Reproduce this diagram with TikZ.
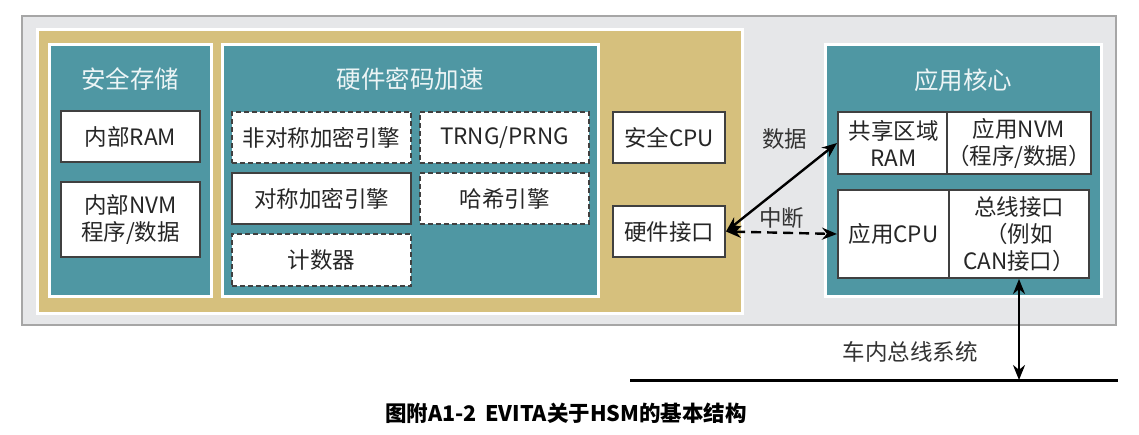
\documentclass[tikz,border=0pt]{standalone}
\usepackage{fontspec}
\setmainfont{Noto Sans CJK SC}
\usetikzlibrary{arrows.meta}
\definecolor{hsmteal}{HTML}{4F97A3}
\definecolor{hsmgold}{HTML}{D6C07D}
\definecolor{hsmgray}{HTML}{E6E7E9}
\tikzset{
  blk/.style={draw=black!75,line width=2pt,fill=white,inner sep=0pt,align=center,
              text=black!85,font=\fontsize{22.5}{27}\selectfont},
  dsh/.style={blk,dash pattern=on 5pt off 3pt},
  grp/.style={draw=white,line width=3pt,fill=hsmteal,inner sep=0pt},
  ttl/.style={text=white!90!hsmteal,font=\fontsize{24.5}{28}\selectfont},
  lbl/.style={text=black!80,font=\fontsize{22.5}{27}\selectfont},
  link/.style={line width=2.4pt,{Stealth[length=15pt,width=12pt]}-{Stealth[length=15pt,width=12pt]}}
}
\begin{document}
\begin{tikzpicture}[x=1pt,y=-1pt]
\useasboundingbox[fill=white] (0,0) rectangle (1139,435);
% frames
\node[draw=black!35,line width=2pt,fill=hsmgray,minimum width=1094pt,minimum height=309pt] (hsm) at (569,170.5) {};
\node[draw=white,line width=3pt,fill=hsmgold,minimum width=705pt,minimum height=283pt] (core) at (389.5,171.5) {};
\node[grp,minimum width=162pt,minimum height=251pt] (store) at (130,170.5) {};
\node[grp,minimum width=376pt,minimum height=251pt] (crypto) at (410,170.5) {};
\node[grp,minimum width=276pt,minimum height=251pt] (app) at (963,170.5) {};
\node[ttl] at (130,79) {安全存储};
\node[ttl] at (410,79) {硬件密码加速};
\node[ttl] at (963,80) {应用核心};

% secure storage
\node[blk,minimum width=139pt,minimum height=51pt] (ram) at (130.5,136.5) {内部RAM};
\node[blk,minimum width=139pt,minimum height=75pt] (nvm) at (130.5,219.5) {内部NVM\\程序/数据};

% crypto engines
\node[dsh,minimum width=179pt,minimum height=51pt] (asym) at (321.5,137.5) {非对称加密引擎};
\node[dsh,minimum width=169pt,minimum height=51pt] (trng) at (504.5,137.5) {TRNG/PRNG};
\node[blk,minimum width=179pt,minimum height=51pt] (sym)  at (321.5,198.5) {对称加密引擎};
\node[dsh,minimum width=169pt,minimum height=51pt] (hash) at (504.5,198.5) {哈希引擎};
\node[dsh,minimum width=179pt,minimum height=52pt] (cnt)  at (321.5,260) {计数器};

\node[blk,minimum width=112pt,minimum height=51pt] (cpu)  at (669,137.5) {安全CPU};
\node[blk,minimum width=112pt,minimum height=51pt] (hwif) at (669,231.5) {硬件接口};

% application core
\node[blk,minimum width=111pt,minimum height=62pt] (shram)  at (893.5,143) {共享区域\\RAM};
\node[blk,minimum width=140pt,minimum height=62pt] (appnvm) at (1019,143) {应用NVM\\（程序/数据）};
\node[blk,minimum width=111pt,minimum height=88pt] (appcpu) at (893.5,234) {应用CPU};
\node[blk,minimum width=140pt,minimum height=88pt] (busif)  at (1019,234) {总线接口\\（例如\\CAN接口）};

% in-vehicle bus
\coordinate (busl) at (630,380);
\coordinate (busr) at (1118,380);
\coordinate (bus)  at (1019,380);
\draw[line width=3pt] (busl) -- (busr);
\node[lbl] at (910,352) {车内总线系统};

\draw[link] (hwif.east) -- node[lbl,pos=0.5,yshift=48pt,xshift=3pt] {数据} (shram.west);
\draw[link,dash pattern=on 10pt off 6pt] (hwif.east) -- node[lbl,above=0pt] {中断} (appcpu.west);
\draw[link] (busif.south) -- (bus);

\node[font=\fontsize{21.5}{26}\selectfont\bfseries] at (566,413) {图附A1-2\, EVITA关于HSM的基本结构};
\end{tikzpicture}
\end{document}
